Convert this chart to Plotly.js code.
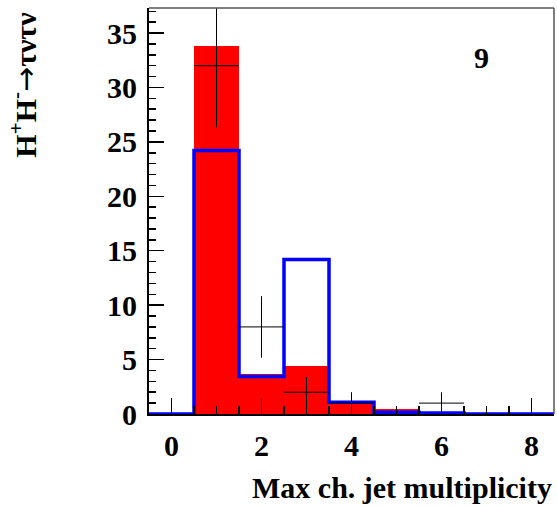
<!DOCTYPE html>
<html>
<head>
<meta charset="utf-8">
<script src="https://cdn.plot.ly/plotly-3.0.1.min.js"></script>
<style>
  html, body { margin: 0; padding: 0; background: #fff; }
  #chart { width: 557px; height: 507px; }
</style>
</head>
<body>
<div id="chart"></div>
<script>
// Bin centres of the histogram (max charged jet multiplicity)
const binCenters = [0, 1, 2, 3, 4, 5, 6, 7, 8];
// Red filled histogram
const redValues = [0, 33.8, 3.65, 4.4, 1.1, 0.42, 0.05, 0, 0];
// Blue outline histogram
const blueValues = [0, 24.2, 3.45, 14.2, 1.07, 0.15, 0.09, 0, 0];
// Data points with errors
const dataX = [1, 2, 3, 4, 6];
const dataY = [32, 8, 2, 1, 1];
const dataErr = [5.66, 2.83, 1.41, 1, 1];
const dataHalfWidth = [0.5, 0.5, 0.5, 0.5, 0.5];
// Tick values
const xTicks = [0, 2, 4, 6, 8];
const yTicks = [0, 5, 10, 15, 20, 25, 30, 35];

// step outline: bin edges
const binEdges = binCenters.map(c => c - 0.5).concat([binCenters[binCenters.length - 1] + 0.5]);
const blueStep = blueValues.concat([blueValues[blueValues.length - 1]]);

const serif = 'Liberation Serif, Times New Roman, serif';

const traces = [
  {
    type: 'bar', x: binCenters, y: redValues, width: 1,
    marker: { color: '#ff0000', line: { width: 0 } },
    hoverinfo: 'skip', showlegend: false
  },
  {
    type: 'scatter', mode: 'lines', x: binEdges, y: blueStep,
    line: { shape: 'hv', color: '#0000ff', width: 3.5 },
    hoverinfo: 'skip', showlegend: false
  },
  {
    type: 'scatter', mode: 'markers', x: dataX, y: dataY,
    marker: { size: 1, color: '#000' },
    error_y: { type: 'data', array: dataErr, visible: true, color: '#000', thickness: 1, width: 0 },
    error_x: { type: 'data', array: dataHalfWidth, visible: true, color: '#000', thickness: 1, width: 0 },
    hoverinfo: 'skip', showlegend: false
  }
];

const tickFont = { family: serif, size: 30, color: '#000', weight: 'bold' };

const layout = {
  width: 557, height: 507,
  margin: { l: 149, r: 3, t: 8, b: 93 },
  paper_bgcolor: '#fff', plot_bgcolor: '#fff',
  bargap: 0,
  showlegend: false,
  xaxis: {
    range: [-0.5, 8.5], tickvals: xTicks, ticktext: xTicks.map(String),
    ticks: 'inside', ticklen: 16, tickwidth: 1.5, tickcolor: '#000',
    minor: { dtick: 0.5, tick0: 0, ticks: 'inside', ticklen: 8, tickwidth: 1.5, tickcolor: '#000' },
    showline: true, linecolor: '#000', linewidth: 2,
    showgrid: false, zeroline: false,
    tickfont: tickFont, ticklabelstandoff: 4
  },
  yaxis: {
    range: [0, 37.3], tickvals: yTicks, ticktext: yTicks.map(String),
    ticks: 'inside', ticklen: 15, tickwidth: 1.5, tickcolor: '#000',
    minor: { dtick: 1, tick0: 0, ticks: 'inside', ticklen: 7, tickwidth: 1.5, tickcolor: '#000' },
    showline: true, linecolor: '#000', linewidth: 2,
    showgrid: false, zeroline: false,
    tickfont: tickFont, ticklabelstandoff: 4
  },
  shapes: [
    { type: 'line', xref: 'paper', yref: 'paper', x0: 0, x1: 1, y0: 1, y1: 1, line: { color: '#555', width: 1.5 } },
    { type: 'line', xref: 'paper', yref: 'paper', x0: 1, x1: 1, y0: 0, y1: 1, line: { color: '#555', width: 1.5 } }
  ],
  annotations: [
    {
      xref: 'paper', yref: 'paper', x: -0.31, y: 0.997, xanchor: 'center', yanchor: 'top',
      text: 'H<sup>+</sup>H<sup>-</sup><span style="font-family:DejaVu Sans;font-weight:normal">→</span>τντν',
      textangle: -90, showarrow: false,
      font: { family: serif, size: 30, color: '#000', weight: 'bold' }
    },
    {
      xref: 'paper', yref: 'paper', x: 1, y: -0.18, xanchor: 'right', yanchor: 'middle',
      text: 'Max ch. jet multiplicity', showarrow: false,
      font: { family: serif, size: 30, color: '#000', weight: 'bold' }
    },
    {
      xref: 'paper', yref: 'paper', x: 0.82, y: 0.877, xanchor: 'center', yanchor: 'middle',
      text: '9', showarrow: false,
      font: { family: serif, size: 30, color: '#000', weight: 'bold' }
    }
  ]
};

Plotly.newPlot('chart', traces, layout, { staticPlot: true, displayModeBar: false });
</script>
</body>
</html>
